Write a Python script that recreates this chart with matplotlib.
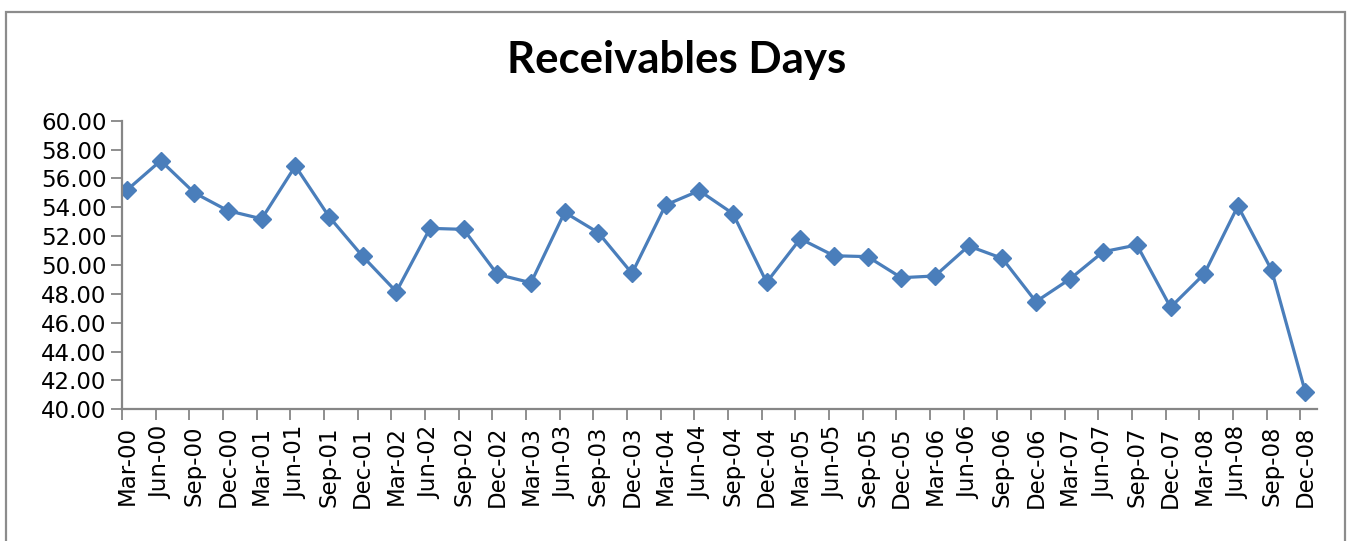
import matplotlib
matplotlib.use("Agg")
import matplotlib.pyplot as plt
from matplotlib.patches import Rectangle
from matplotlib.ticker import FixedLocator, FormatStrFormatter

plt.rcParams['font.family'] = ['DejaVu Sans']

quarters = ["Mar-00", "Jun-00", "Sep-00", "Dec-00",
            "Mar-01", "Jun-01", "Sep-01", "Dec-01",
            "Mar-02", "Jun-02", "Sep-02", "Dec-02",
            "Mar-03", "Jun-03", "Sep-03", "Dec-03",
            "Mar-04", "Jun-04", "Sep-04", "Dec-04",
            "Mar-05", "Jun-05", "Sep-05", "Dec-05",
            "Mar-06", "Jun-06", "Sep-06", "Dec-06",
            "Mar-07", "Jun-07", "Sep-07", "Dec-07",
            "Mar-08", "Jun-08", "Sep-08", "Dec-08"]

receivable_days = [55.20, 57.23, 55.00, 53.76,
                   53.20, 56.86, 53.35, 50.60,
                   48.15, 52.54, 52.47, 49.35,
                   48.77, 53.65, 52.24, 49.42,
                   54.16, 55.15, 53.56, 48.80,
                   51.82, 50.64, 50.58, 49.12,
                   49.24, 51.32, 50.46, 47.46,
                   49.01, 50.92, 51.39, 47.07,
                   49.38, 54.09, 49.65, 41.22]

title = "Receivables Days"

W, H = 1348, 541
fig = plt.figure(figsize=(W / 100, H / 100), dpi=100)
fig.patch.set_facecolor("white")

# chart frame like the spreadsheet chart box
fig.patches.append(Rectangle((6 / W, -0.02), (1345 - 6) / W, 1.02 - 12 / H,
                             transform=fig.transFigure, fill=False,
                             edgecolor="#8c8c8c", linewidth=1.6))

ax = fig.add_axes([122 / W, 1 - 409.3 / H, (1317 - 122) / W, (409.3 - 120.7) / H])

x = list(range(len(quarters)))
ax.plot(x, receivable_days, color="#4a7ebb", linewidth=2.3,
        marker="D", markersize=9.5, markerfacecolor="#4a7ebb",
        markeredgecolor="#4a7ebb")

ax.set_ylim(40, 60)
ax.set_xlim(-0.15, len(quarters) - 0.65)
ax.set_yticks([40 + 2 * i for i in range(11)])
ax.yaxis.set_major_formatter(FormatStrFormatter("%.2f"))

ax.set_xticks(x)
ax.set_xticklabels(quarters, rotation=90, fontsize=16.5)
ax.tick_params(axis="x", which="major", length=0, pad=12)
ax.xaxis.set_minor_locator(FixedLocator([i - 0.15 for i in x]))
ax.tick_params(axis="x", which="minor", length=8, width=1.3, color="#868686", direction="out")
ax.tick_params(axis="y", length=8, width=1.3, color="#868686", labelsize=16.5, pad=3)

for s in ["top", "right"]:
    ax.spines[s].set_visible(False)
for s in ["left", "bottom"]:
    ax.spines[s].set_color("#868686")
    ax.spines[s].set_linewidth(1.6)

fig.text(677 / W, 1 - 60 / H, title, ha="center", va="center",
         fontsize=31.5, fontweight="bold", family=["Lato", "DejaVu Sans"])

fig.savefig("out.png", dpi=100)
